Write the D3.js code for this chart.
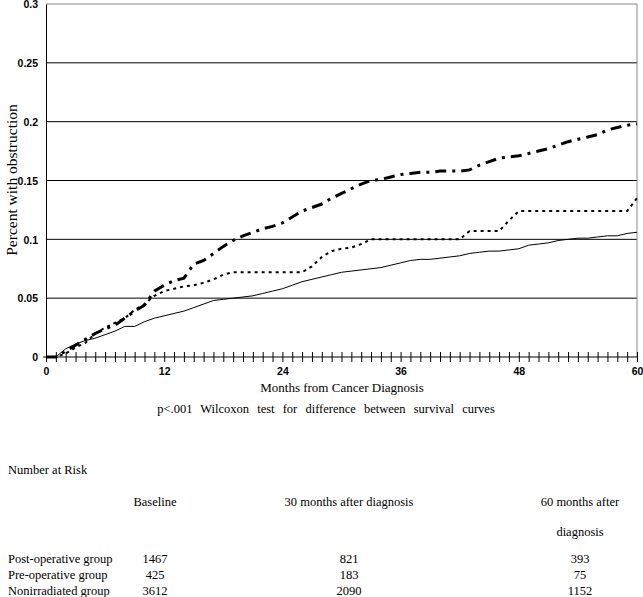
<!DOCTYPE html>
<html>
<head>
<meta charset="utf-8">
<script src="https://cdn.jsdelivr.net/npm/d3@7"></script>
<style>
  body { margin: 0; background: #fff; }
  svg { display: block; }
</style>
</head>
<body>
<div id="chart"></div>
<script>
// months 0..60
var months = [0,1,2,3,4,5,6,7,8,9,10,11,12,13,14,15,16,17,18,19,20,21,22,23,24,25,26,27,28,29,30,
  31,32,33,34,35,36,37,38,39,40,41,42,43,44,45,46,47,48,49,50,51,52,53,54,55,56,57,58,59,60];

// dash-dot curve
var postOp = [0,0,0.005,0.01,0.015,0.02,0.024,0.027,0.033,0.039,0.044,0.056,0.061,0.065,0.067,0.079,
  0.082,0.088,0.094,0.099,0.103,0.106,0.109,0.111,0.114,0.119,0.124,0.127,0.13,0.135,0.139,
  0.143,0.147,0.15,0.151,0.153,0.155,0.156,0.157,0.157,0.158,0.158,0.158,0.159,0.163,0.166,
  0.169,0.17,0.171,0.173,0.175,0.177,0.18,0.183,0.185,0.187,0.189,0.193,0.195,0.197,0.198];

// dotted curve
var preOp = [0,0,0.003,0.008,0.012,0.02,0.025,0.029,0.033,0.04,0.045,0.052,0.056,0.058,0.06,0.061,
  0.063,0.066,0.07,0.072,0.072,0.072,0.072,0.072,0.072,0.072,0.072,0.077,0.085,0.09,0.092,
  0.093,0.096,0.1,0.1,0.1,0.1,0.1,0.1,0.1,0.1,0.1,0.1,0.107,0.107,0.107,
  0.107,0.116,0.124,0.124,0.124,0.124,0.124,0.124,0.124,0.124,0.124,0.124,0.124,0.124,0.135];

// solid curve
var nonIrr = [0,0,0.007,0.011,0.014,0.016,0.019,0.022,0.026,0.026,0.03,0.033,0.035,0.037,0.039,0.042,
  0.045,0.048,0.049,0.05,0.051,0.052,0.054,0.056,0.058,0.061,0.064,0.066,0.068,0.07,0.072,
  0.073,0.074,0.075,0.076,0.078,0.08,0.082,0.083,0.083,0.084,0.085,0.086,0.088,0.089,0.09,
  0.09,0.091,0.092,0.095,0.096,0.097,0.099,0.1,0.101,0.101,0.102,0.103,0.103,0.105,0.106];

var yTicks = [0, 0.05, 0.1, 0.15, 0.2, 0.25, 0.3];
var yTickLabels = ["0", "0.05", "0.1", "0.15", "0.2", "0.25", "0.3"];
var xLabelTicks = [0, 12, 24, 36, 48, 60];

var riskGroups = ["Post-operative group", "Pre-operative group", "Nonirradiated group"];
var riskBaseline = [1467, 425, 3612];
var risk30 = [821, 183, 2090];
var risk60 = [393, 75, 1152];

var W = 643, H = 597;
var svg = d3.select("#chart").append("svg").attr("width", W).attr("height", H);

var x = d3.scaleLinear().domain([0, 60]).range([46, 637]);
var y = d3.scaleLinear().domain([0, 0.3]).range([357, 4]);

var serif = "'Liberation Serif', 'Times New Roman', serif";
var sans = "'Liberation Sans', Arial, sans-serif";

// gridlines
svg.selectAll("line.grid").data(yTicks.slice(1)).enter().append("line")
  .attr("class", "grid")
  .attr("x1", x(0)).attr("x2", x(60))
  .attr("y1", function(d) { return y(d); })
  .attr("y2", function(d) { return y(d); })
  .attr("stroke", function(d) { return d === 0.3 ? "#888" : "#000"; })
  .attr("stroke-width", 1);

// right border
svg.append("line")
  .attr("x1", x(60)).attr("x2", x(60))
  .attr("y1", y(0.3)).attr("y2", y(0))
  .attr("stroke", "#888");

// y axis
var yAxis = d3.axisLeft(y).tickValues(yTicks).tickSize(0)
  .tickFormat(function(d, i) { return yTickLabels[i]; });
var gy = svg.append("g").attr("transform", "translate(" + x(0) + ",0)").call(yAxis);
gy.select(".domain").attr("stroke", "#000");
gy.selectAll("text").attr("x", -8).attr("dy", "0.35em")
  .style("font-family", sans).style("font-weight", "bold").style("font-size", "10.5px").attr("fill", "#000");

// x axis
var xAxis = d3.axisBottom(x).tickValues(months).tickSize(5)
  .tickFormat(function(d) { return xLabelTicks.indexOf(d) >= 0 ? d : ""; });
var gx = svg.append("g").attr("transform", "translate(0," + y(0) + ")").call(xAxis);
gx.select(".domain").attr("stroke", "#000").attr("d", "M" + (x(0) - 3) + ",0H" + x(60));
gx.selectAll(".tick line").attr("y1", -5).attr("y2", 5).attr("stroke", "#000");
gx.selectAll("text").attr("y", 11)
  .style("font-family", sans).style("font-weight", "bold").style("font-size", "10.5px").attr("fill", "#000");

// curves
var line = d3.line()
  .x(function(d) { return x(d[0]); })
  .y(function(d) { return y(d[1]); });

function pairs(vals) { return months.map(function(m, i) { return [m, vals[i]]; }); }

svg.append("path").datum(pairs(nonIrr))
  .attr("d", line).attr("fill", "none").attr("stroke", "#000").attr("stroke-width", 1);

svg.append("path").datum(pairs(preOp))
  .attr("d", line).attr("fill", "none").attr("stroke", "#000").attr("stroke-width", 2)
  .attr("stroke-dasharray", "3,4");

svg.append("path").datum(pairs(postOp))
  .attr("d", line).attr("fill", "none").attr("stroke", "#000").attr("stroke-width", 3)
  .attr("stroke-dasharray", "11,6,3,6");

// titles
svg.append("text")
  .attr("transform", "translate(17,180) rotate(-90)")
  .attr("text-anchor", "middle")
  .style("font-family", serif).style("font-size", "15.5px")
  .text("Percent with obstruction");

svg.append("text")
  .attr("x", 342).attr("y", 392).attr("text-anchor", "middle")
  .style("font-family", serif).style("font-size", "13px")
  .text("Months from Cancer Diagnosis");

svg.append("text")
  .attr("x", 326).attr("y", 413).attr("text-anchor", "middle")
  .style("font-family", serif).style("font-size", "12.5px").style("word-spacing", "5px")
  .text("p<.001 Wilcoxon test for difference between survival curves");

// number at risk table
var tbl = svg.append("g").style("font-family", serif).style("font-size", "12.5px");
tbl.append("text").attr("x", 8).attr("y", 474).text("Number at Risk");

var colX = [155, 349, 580];
tbl.append("text").attr("x", colX[0]).attr("y", 506).attr("text-anchor", "middle").text("Baseline");
tbl.append("text").attr("x", colX[1]).attr("y", 506).attr("text-anchor", "middle").text("30 months after diagnosis");
tbl.append("text").attr("x", colX[2]).attr("y", 506).attr("text-anchor", "middle").text("60 months after");
tbl.append("text").attr("x", colX[2]).attr("y", 536).attr("text-anchor", "middle").text("diagnosis");

var rowY = [563, 579, 595];
riskGroups.forEach(function(g, i) {
  tbl.append("text").attr("x", 8).attr("y", rowY[i]).text(g);
  tbl.append("text").attr("x", colX[0]).attr("y", rowY[i]).attr("text-anchor", "middle").text(riskBaseline[i]);
  tbl.append("text").attr("x", colX[1]).attr("y", rowY[i]).attr("text-anchor", "middle").text(risk30[i]);
  tbl.append("text").attr("x", colX[2]).attr("y", rowY[i]).attr("text-anchor", "middle").text(risk60[i]);
});
</script>
</body>
</html>
